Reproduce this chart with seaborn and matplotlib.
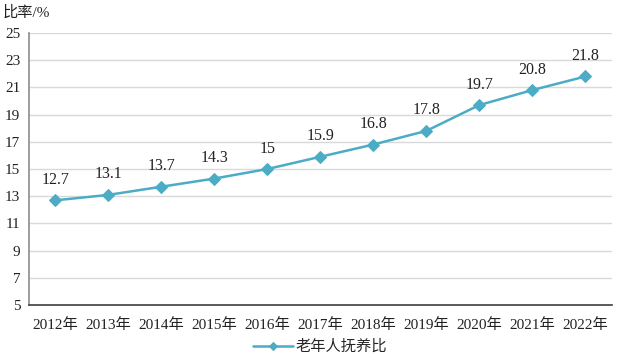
import matplotlib
matplotlib.use("Agg")
import matplotlib.pyplot as plt
import pandas as pd
import seaborn as sns
from matplotlib.ticker import FixedLocator

years = ["2012年", "2013年", "2014年", "2015年", "2016年", "2017年",
         "2018年", "2019年", "2020年", "2021年", "2022年"]
ratio = [12.7, 13.1, 13.7, 14.3, 15, 15.9, 16.8, 17.8, 19.7, 20.8, 21.8]
value_labels = ["12.7", "13.1", "13.7", "14.3", "15", "15.9",
                "16.8", "17.8", "19.7", "20.8", "21.8"]
series_name = "老年人抚养比"

sns.set_style("white")
plt.rcParams["font.family"] = ["Liberation Serif", "Noto Sans CJK SC", "DejaVu Sans"]

df = pd.DataFrame({"year": years, "ratio": ratio})
line_color = "#4BACC6"

fig = plt.figure(figsize=(6.23, 3.62), dpi=100)
ax = fig.add_axes([0.046, 0.157, 0.936, 0.752])

sns.lineplot(data=df, x="year", y="ratio", color=line_color, marker="D",
             markersize=6, markeredgecolor=line_color, linewidth=1.8,
             label=series_name, ax=ax)

for i, (v, t) in enumerate(zip(ratio, value_labels)):
    ax.annotate(t, (i, v), xytext=(0, 9), textcoords="offset points",
                ha="center", va="bottom", fontsize=11.5, color="#222222")

ax.set_ylim(5, 25)
ax.set_yticks(range(5, 26, 2))
ax.set_xlim(-0.5, len(years) - 0.5)
ax.grid(axis="y", color="#d9d9d9", linewidth=1)
ax.set_axisbelow(True)
ax.set_xlabel("")
ax.set_ylabel("")

for s in ["top", "right"]:
    ax.spines[s].set_visible(False)
ax.spines["left"].set_color("#8c8c8c")
ax.spines["left"].set_linewidth(1.2)
ax.spines["bottom"].set_color("#404040")
ax.spines["bottom"].set_linewidth(1.2)

ax.tick_params(axis="both", which="major", length=0, labelsize=11, colors="#222222")
ax.tick_params(axis="y", pad=6)
ax.tick_params(axis="x", pad=9)
ax.xaxis.set_minor_locator(FixedLocator([i + 0.5 for i in range(-1, len(years))]))
ax.tick_params(axis="x", which="minor", length=4, color="#8c8c8c", direction="out")

fig.text(0.005, 0.965, "比率/%", fontsize=11, ha="left", va="center", color="#222222")

leg = ax.legend(loc="upper center", bbox_to_anchor=(0.5, -0.105), frameon=False,
                fontsize=11, handlelength=2.6, handletextpad=0.2, borderaxespad=0)
for h in leg.legend_handles:
    h.set_markersize(4.5)

fig.savefig("out.png", dpi=100)
